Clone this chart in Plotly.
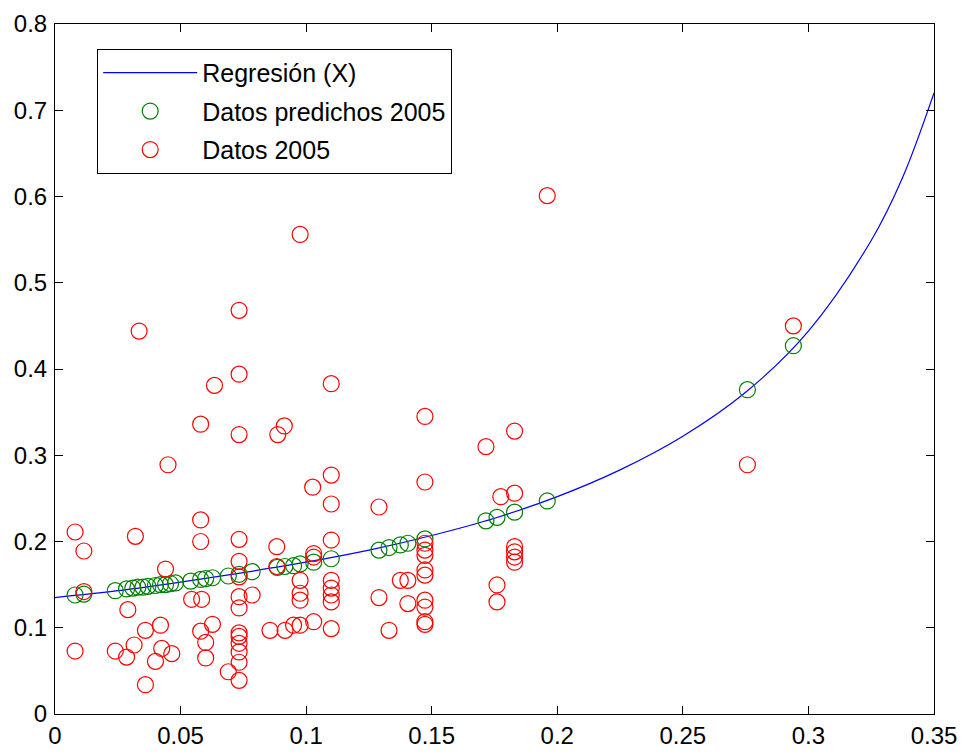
import plotly.graph_objects as go

# Regression curve
curve_x = [0, 0.025, 0.05, 0.075, 0.1, 0.125, 0.15, 0.175, 0.2, 0.225, 0.25,
           0.275, 0.3, 0.325, 0.3375, 0.35]
curve_y = [0.135, 0.143, 0.153, 0.164, 0.176, 0.190, 0.207, 0.227, 0.252,
           0.283, 0.322, 0.373, 0.444, 0.549, 0.622, 0.720]

# Predicted data 2005 (green)
pred_x = [0.008, 0.0115, 0.024, 0.0285, 0.031, 0.033, 0.035, 0.037, 0.040,
          0.042, 0.044, 0.046, 0.048, 0.054, 0.058, 0.060, 0.0627, 0.069,
          0.0733, 0.0785, 0.0885, 0.0915, 0.095, 0.0976, 0.103, 0.110,
          0.129, 0.133, 0.1375, 0.1405, 0.1473, 0.1716, 0.176, 0.183,
          0.196, 0.2757, 0.294]
pred_y = [0.138, 0.139, 0.143, 0.145, 0.146, 0.147, 0.147, 0.148, 0.149,
          0.150, 0.150, 0.151, 0.152, 0.154, 0.156, 0.157, 0.158, 0.160,
          0.162, 0.165, 0.170, 0.171, 0.172, 0.174, 0.176, 0.180,
          0.190, 0.193, 0.196, 0.198, 0.203, 0.224, 0.228, 0.234,
          0.247, 0.376, 0.427]

# Data 2005 (red)
data_x = [0.008, 0.008, 0.0115, 0.0115,
          0.024, 0.029, 0.0285, 0.0315, 0.032, 0.0335,
          0.036, 0.036, 0.042, 0.0425, 0.040, 0.044, 0.0465, 0.045,
          0.0544, 0.0584, 0.058, 0.058, 0.058, 0.058, 0.0627, 0.060, 0.060, 0.0635,
          0.069,
          0.0733, 0.0733, 0.0733, 0.0733, 0.0733, 0.0733, 0.0733, 0.0733,
          0.0733, 0.0733, 0.0733, 0.0733, 0.0733, 0.0733,
          0.0785,
          0.0887, 0.0913, 0.0883, 0.0883, 0.0856, 0.0916, 0.095,
          0.0976, 0.0976, 0.0976, 0.0976, 0.0976,
          0.1026, 0.103, 0.103, 0.103,
          0.110, 0.110, 0.110, 0.110, 0.110, 0.110, 0.110, 0.110, 0.110,
          0.129, 0.129, 0.133, 0.1375, 0.1405, 0.1405,
          0.1473, 0.1473, 0.1473, 0.1473, 0.1473, 0.1473, 0.1473, 0.1473,
          0.1473, 0.1473, 0.1473,
          0.1716, 0.1775, 0.176, 0.176,
          0.183, 0.183, 0.183, 0.183, 0.183, 0.183,
          0.196, 0.2757, 0.294]
data_y = [0.211, 0.073, 0.189, 0.142,
          0.073, 0.121, 0.066, 0.080, 0.206, 0.444,
          0.097, 0.034, 0.103, 0.076, 0.061, 0.168, 0.070, 0.289,
          0.133, 0.133, 0.225, 0.200, 0.096, 0.336, 0.104, 0.083, 0.065, 0.381,
          0.049,
          0.468, 0.394, 0.324, 0.2025, 0.177, 0.159, 0.136, 0.123,
          0.094, 0.090, 0.082, 0.072, 0.060, 0.039,
          0.138,
          0.324, 0.334, 0.194, 0.171, 0.097, 0.097, 0.103,
          0.556, 0.155, 0.140, 0.132, 0.103,
          0.263, 0.186, 0.182, 0.107,
          0.383, 0.277, 0.2435, 0.2017, 0.155, 0.146, 0.138, 0.130, 0.099,
          0.240, 0.135, 0.097, 0.155, 0.155, 0.128,
          0.345, 0.269, 0.198, 0.190, 0.184, 0.167, 0.161, 0.132,
          0.124, 0.107, 0.104,
          0.310, 0.252, 0.1496, 0.130,
          0.328, 0.256, 0.194, 0.188, 0.182, 0.176,
          0.601, 0.289, 0.450]

x_ticks = [0, 0.05, 0.1, 0.15, 0.2, 0.25, 0.3, 0.35]
x_tick_text = ["0", "0.05", "0.1", "0.15", "0.2", "0.25", "0.3", "0.35"]
y_ticks = [0, 0.1, 0.2, 0.3, 0.4, 0.5, 0.6, 0.7, 0.8]
y_tick_text = ["0", "0.1", "0.2", "0.3", "0.4", "0.5", "0.6", "0.7", "0.8"]

FONT = "Liberation Sans, Arial, sans-serif"

fig = go.Figure()
fig.add_trace(go.Scatter(x=curve_x, y=curve_y, mode="lines",
                         line=dict(color="#0000ff", width=1.2, shape="spline"),
                         name="Regresión (X)", legendgroup="a"))
fig.add_trace(go.Scatter(x=pred_x, y=pred_y, mode="markers",
                         marker=dict(symbol="circle-open", size=16,
                                     color="#008000", line=dict(width=1.2)),
                         name="Datos predichos 2005", legendgroup="b"))
fig.add_trace(go.Scatter(x=data_x, y=data_y, mode="markers",
                         marker=dict(symbol="circle-open", size=16,
                                     color="#ff0000", line=dict(width=1.2)),
                         name="Datos 2005", legendgroup="c"))

axis_common = dict(showgrid=False, zeroline=False, showline=True,
                   linecolor="black", linewidth=1, mirror="ticks",
                   ticks="inside", ticklen=8, tickcolor="black",
                   automargin=False,
                   tickfont=dict(family=FONT, size=24, color="black"))

fig.update_xaxes(range=[0, 0.35], tickvals=x_ticks, ticktext=x_tick_text,
                 **axis_common)
fig.update_yaxes(range=[0, 0.8], tickvals=y_ticks, ticktext=y_tick_text,
                 ticklabelstandoff=2, **axis_common)

fig.update_layout(
    width=962, height=754,
    margin=dict(l=55, r=28, t=24, b=40),
    plot_bgcolor="white", paper_bgcolor="white",
    showlegend=True,
    legend=dict(x=0.048, y=0.964, xanchor="left", yanchor="top",
                bgcolor="white", bordercolor="black", borderwidth=1,
                font=dict(family=FONT, size=25, color="black"),
                itemwidth=94, traceorder="grouped", tracegroupgap=3),
)

fig.write_html("out.html")
